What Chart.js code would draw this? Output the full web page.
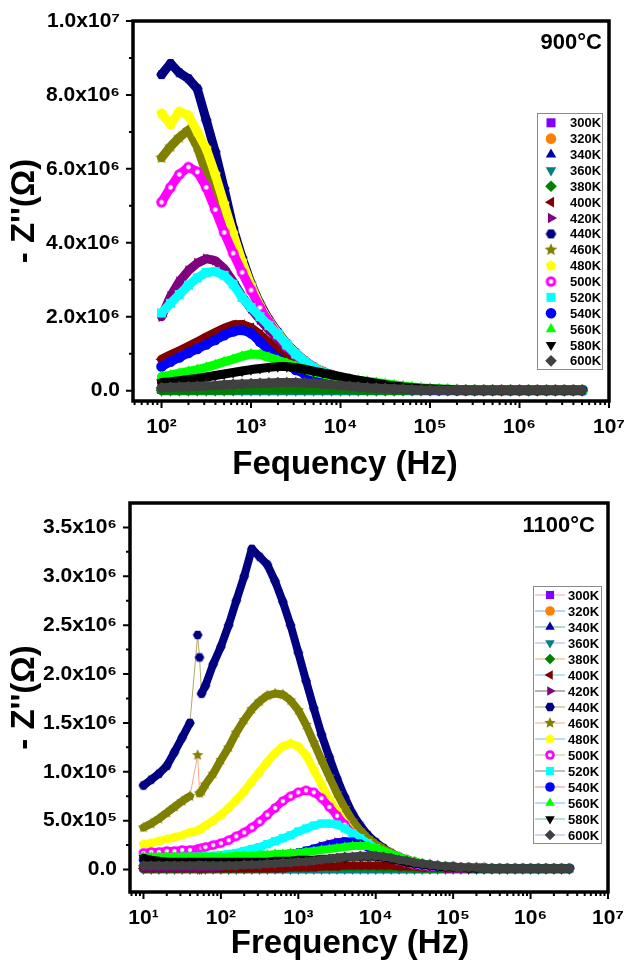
<!DOCTYPE html>
<html>
<head>
<meta charset="utf-8">
<script src="https://cdn.jsdelivr.net/npm/chart.js@4.4.0/dist/chart.umd.min.js"></script>
<style>
  html, body { margin: 0; padding: 0; background: #fff; }
  #wrap { position: relative; width: 624px; height: 966px; }
  canvas { position: absolute; left: 0; }
</style>
</head>
<body>
<div id="wrap">
  <canvas id="topChart" width="624" height="483" style="top:0"></canvas>
  <canvas id="botChart" width="624" height="483" style="top:483px"></canvas>
</div>
<script>
const FONT = '"Liberation Sans", Arial, Helvetica, sans-serif';

const temps = ['300K','320K','340K','360K','380K','400K','420K','440K','460K','480K','500K','520K','540K','560K','580K','600K'];
const markerColors = ['#8000ff','#ff8000','#0000a8','#008080','#008000','#800000','#800080','#000080','#808000','#ffff00','#ff00ff','#00ffff','#0000ff','#00ff00','#000000','#404040'];
const markerShapes = ['square','circle','up','down','diamond','left','right','hexagon','star','pentagon','sphere','square','circle','up','down','diamond'];
const lineColors = ['#f4a0a0','#80a8e0','#60b888','#c8a0e8','#e8b468','#68d0d8','#786060','#b0a868','#f4a888','#88aee8','#a8d878','#808080','#f08888','#88aee8','#70c098','#c8a0e8'];

// ---- 900 °C panel (values in MOhm) ----
const freqTop = [100,126,158,200,251,316,398,501,631,794,
  1000,1259,1585,1995,2512,3162,3981,5012,6310,7943,
  1e4,1.26e4,1.58e4,2e4,2.51e4,3.16e4,3.98e4,5.01e4,6.31e4,7.94e4,
  1e5,1.26e5,1.58e5,2e5,2.51e5,3.16e5,3.98e5,5.01e5,6.31e5,7.94e5,
  1e6,1.26e6,1.58e6,2e6,2.51e6,3.16e6,3.98e6,5.01e6];
const top300K = [0.03,0.02,0.02,0.02,0.02,0.02,0.02,0.02,0.02,0.02, 0.02,0.02,0.02,0.02,0.02,0.02,0.02,0.02,0.02,0.02, 0.01,0.01,0.01,0.01,0.01,0.01,0.01,0.01,0.01,0.01, 0.01,0.01,0.01,0.01,0.01,0.01,0.01,0.01,0.01,0.01, 0.01,0.01,0.01,0.01,0.01,0.01,0.01,0.01];
const top320K = [0.04,0.03,0.03,0.03,0.03,0.03,0.03,0.03,0.03,0.03, 0.03,0.03,0.03,0.03,0.03,0.03,0.03,0.02,0.02,0.02, 0.02,0.02,0.02,0.02,0.01,0.01,0.01,0.01,0.01,0.01, 0.01,0.01,0.01,0.01,0.01,0.01,0.01,0.01,0.01,0.01, 0.01,0.01,0.01,0.01,0.01,0.01,0.01,0.01];
const top340K = [0.03,0.02,0.02,0.02,0.02,0.02,0.02,0.02,0.02,0.02, 0.02,0.02,0.02,0.02,0.02,0.02,0.02,0.02,0.02,0.02, 0.02,0.01,0.01,0.01,0.01,0.01,0.01,0.01,0.01,0.01, 0.01,0.01,0.01,0.01,0.01,0.01,0.01,0.01,0.01,0.01, 0.01,0.01,0.01,0.01,0.01,0.01,0.01,0.01];
const top360K = [0,0,0,0,0,0,0,0,0,0, 0,0,0,0,0,0,0,0,0,0, 0,0,0,0,0,0,0,0,0,0, 0,0,0,0,0,0,0,0,0,0, 0,0,0,0,0,0,0,0];
const top380K = [0.01,0.01,0.01,0.01,0.01,0.02,0.02,0.02,0.02,0.03, 0.03,0.03,0.04,0.04,0.04,0.04,0.04,0.04,0.04,0.03, 0.03,0.03,0.02,0.02,0.02,0.01,0.01,0.01,0.01,0.01, 0.01,0.01,0.01,0.01,0.01,0.01,0.01,0.01,0.01,0.01, 0.01,0.01,0.01,0.01,0.01,0.01,0.01,0.01];
const top400K = [0.85,0.97,1.08,1.2,1.32,1.45,1.57,1.69,1.78,1.79, 1.7,1.52,1.3,1.08,0.88,0.71,0.57,0.46,0.38,0.32, 0.27,0.22,0.18,0.15,0.12,0.09,0.07,0.05,0.04,0.03, 0.02,0.02,0.02,0.01,0.01,0.01,0.01,0.01,0.01,0.01, 0.01,0.01,0.01,0.01,0.01,0.01,0.01,0.01];
const top420K = [2.0,2.55,2.95,3.25,3.45,3.57,3.52,3.3,2.95,2.55, 2.22,1.92,1.65,1.4,1.16,0.95,0.77,0.62,0.5,0.41, 0.34,0.28,0.22,0.18,0.14,0.11,0.08,0.06,0.05,0.04, 0.03,0.02,0.02,0.02,0.01,0.01,0.01,0.01,0.01,0.01, 0.01,0.01,0.01,0.01,0.01,0.01,0.01,0.01];
const top440K = [8.55,8.85,8.6,8.44,8.17,7.32,6.46,5.47,4.4,3.6, 2.9,2.35,1.92,1.58,1.27,1.02,0.81,0.64,0.52,0.43, 0.36,0.3,0.24,0.19,0.15,0.12,0.09,0.07,0.05,0.04, 0.03,0.03,0.02,0.02,0.01,0.01,0.01,0.01,0.01,0.01, 0.01,0.01,0.01,0.01,0.01,0.01,0.01,0.01];
const top460K = [6.3,6.6,6.85,7.05,6.6,5.9,5.3,4.65,4.0,3.35, 2.75,2.25,1.85,1.52,1.23,0.99,0.79,0.63,0.51,0.42, 0.35,0.29,0.23,0.18,0.14,0.11,0.09,0.07,0.05,0.04, 0.03,0.02,0.02,0.02,0.01,0.01,0.01,0.01,0.01,0.01, 0.01,0.01,0.01,0.01,0.01,0.01,0.01,0.01];
const top480K = [7.5,7.2,7.55,7.45,7.0,6.55,5.85,5.05,4.25,3.5, 2.85,2.3,1.88,1.55,1.25,1.0,0.8,0.63,0.51,0.42, 0.35,0.29,0.23,0.19,0.15,0.11,0.09,0.07,0.05,0.04, 0.03,0.02,0.02,0.02,0.01,0.01,0.01,0.01,0.01,0.01, 0.01,0.01,0.01,0.01,0.01,0.01,0.01,0.01];
const top500K = [5.1,5.5,5.85,6.05,5.92,5.5,4.9,4.28,3.72,3.2, 2.72,2.25,1.85,1.5,1.2,0.97,0.78,0.62,0.5,0.41, 0.34,0.28,0.23,0.18,0.14,0.11,0.09,0.07,0.05,0.04, 0.03,0.02,0.02,0.02,0.01,0.01,0.01,0.01,0.01,0.01, 0.01,0.01,0.01,0.01,0.01,0.01,0.01,0.01];
const top520K = [2.1,2.36,2.6,2.85,3.05,3.2,3.22,3.12,2.88,2.52, 2.25,2.0,1.76,1.52,1.24,0.99,0.79,0.62,0.5,0.41, 0.34,0.28,0.23,0.18,0.14,0.11,0.09,0.07,0.05,0.04, 0.03,0.02,0.02,0.02,0.01,0.01,0.01,0.01,0.01,0.01, 0.01,0.01,0.01,0.01,0.01,0.01,0.01,0.01];
const top540K = [0.65,0.78,0.9,1.02,1.13,1.25,1.37,1.5,1.6,1.64, 1.55,1.32,1.08,0.87,0.7,0.56,0.45,0.37,0.31,0.26, 0.22,0.18,0.15,0.12,0.1,0.08,0.06,0.05,0.04,0.03, 0.02,0.02,0.02,0.01,0.01,0.01,0.01,0.01,0.01,0.01, 0.01,0.01,0.01,0.01,0.01,0.01,0.01,0.01];
const top560K = [0.38,0.42,0.47,0.52,0.57,0.63,0.7,0.78,0.85,0.93, 0.99,0.98,0.9,0.82,0.74,0.66,0.58,0.5,0.45,0.4, 0.35,0.31,0.28,0.25,0.22,0.19,0.16,0.13,0.1,0.08, 0.06,0.05,0.04,0.03,0.02,0.02,0.02,0.01,0.01,0.01, 0.01,0.01,0.01,0.01,0.01,0.01,0.01,0.01];
const top580K = [0.22,0.24,0.27,0.3,0.33,0.37,0.41,0.45,0.49,0.53, 0.57,0.6,0.63,0.65,0.65,0.62,0.58,0.53,0.48,0.43, 0.38,0.33,0.28,0.24,0.2,0.16,0.13,0.1,0.08,0.06, 0.05,0.04,0.03,0.02,0.02,0.01,0.01,0.01,0.01,0.01, 0.01,0.01,0.01,0.01,0.01,0.01,0.01,0.01];
const top600K = [0.08,0.09,0.1,0.11,0.12,0.13,0.14,0.16,0.17,0.18, 0.19,0.2,0.21,0.22,0.22,0.22,0.21,0.2,0.18,0.16, 0.14,0.12,0.1,0.08,0.07,0.06,0.05,0.04,0.03,0.02, 0.02,0.01,0.01,0.01,0.01,0.01,0.01,0.01,0.01,0.01, 0.01,0.01,0.01,0.01,0.01,0.01,0.01,0.01];

// ---- 1100 °C panel (values in MOhm) ----
const freqBot = [10,12.6,15.8,20,25.1,31.6,39.8,50.1,53,56.2,63.1,79.4,
  100,126,158,200,251,316,398,501,631,794,
  1000,1259,1585,1995,2512,3162,3981,5012,6310,7943,
  1e4,1.26e4,1.58e4,2e4,2.51e4,3.16e4,3.98e4,5.01e4,6.31e4,7.94e4,
  1e5,1.26e5,1.58e5,2e5,2.51e5,3.16e5,3.98e5,5.01e5,6.31e5,7.94e5,
  1e6,1.26e6,1.58e6,2e6,2.51e6,3.16e6];
const bot300K = [0.02,0.02,0.02,0.02,0.02,0.02,0.02,0.02,0.02,0.02,0.02,0.02, 0.02,0.02,0.02,0.02,0.02,0.02,0.02,0.02,0.02,0.02, 0.02,0.02,0.02,0.02,0.02,0.02,0.02,0.02,0.02,0.02, 0.01,0.01,0.01,0.01,0.01,0.01,0.01,0.01,0.01,0.01, 0.01,0.01,0.01,0.01,0.01,0.01,0.01,0.01,0.01,0.01, 0.01,0.01,0.01,0.01,0.01,0.01];
const bot320K = [0.03,0.02,0.02,0.02,0.02,0.02,0.02,0.02,0.02,0.02,0.02,0.02, 0.02,0.02,0.02,0.02,0.02,0.02,0.02,0.02,0.02,0.02, 0.02,0.02,0.02,0.02,0.02,0.02,0.02,0.01,0.01,0.01, 0.01,0.01,0.01,0.01,0.01,0.01,0.01,0.01,0.01,0.01, 0.01,0.01,0.01,0.01,0.01,0.01,0.01,0.01,0.01,0.01, 0.01,0.01,0.01,0.01,0.01,0.01];
const bot340K = [0.02,0.02,0.02,0.02,0.02,0.02,0.02,0.02,0.02,0.02,0.02,0.02, 0.02,0.02,0.02,0.02,0.02,0.02,0.02,0.02,0.02,0.02, 0.02,0.02,0.02,0.02,0.02,0.02,0.02,0.02,0.02,0.02, 0.01,0.01,0.01,0.01,0.01,0.01,0.01,0.01,0.01,0.01, 0.01,0.01,0.01,0.01,0.01,0.01,0.01,0.01,0.01,0.01, 0.01,0.01,0.01,0.01,0.01,0.01];
const bot360K = [0,0,0,0,0,0,0,0,0,0,0,0, 0,0,0,0,0,0,0,0,0,0, 0,0,0,0,0,0,0,0,0,0, 0,0,0,0,0,0,0,0,0,0, 0,0,0,0,0,0,0,0,0,0, 0,0,0,0,0,0];
const bot380K = [0.01,0.01,0.01,0.01,0.01,0.01,0.01,0.01,0.01,0.01,0.01,0.01, 0.01,0.01,0.01,0.01,0.01,0.01,0.01,0.02,0.02,0.02, 0.02,0.02,0.03,0.03,0.03,0.03,0.03,0.03,0.03,0.03, 0.03,0.02,0.02,0.02,0.02,0.01,0.01,0.01,0.01,0.01, 0.01,0.01,0.01,0.01,0.01,0.01,0.01,0.01,0.01,0.01, 0.01,0.01,0.01,0.01,0.01,0.01];
const bot400K = [0.01,0.01,0.01,0.01,0.01,0.01,0.01,0.01,0.01,0.01,0.01,0.01, 0.01,0.01,0.01,0.01,0.01,0.01,0.01,0.01,0.01,0.02, 0.02,0.02,0.02,0.03,0.03,0.03,0.04,0.04,0.04,0.04, 0.04,0.04,0.04,0.03,0.03,0.03,0.02,0.02,0.02,0.01, 0.01,0.01,0.01,0.01,0.01,0.01,0.01,0.01,0.01,0.01, 0.01,0.01,0.01,0.01,0.01,0.01];
const bot420K = [0.02,0.02,0.02,0.02,0.02,0.02,0.02,0.02,0.02,0.02,0.02,0.02, 0.03,0.04,0.04,0.05,0.06,0.07,0.08,0.1,0.12,0.14, 0.16,0.19,0.21,0.24,0.26,0.28,0.29,0.29,0.27,0.24, 0.2,0.16,0.12,0.09,0.07,0.05,0.04,0.03,0.02,0.02, 0.01,0.01,0.01,0.01,0.01,0.01,0.01,0.01,0.01,0.01, 0.01,0.01,0.01,0.01,0.01,0.01];
const bot440K = [0.86,0.92,0.98,1.06,1.2,1.35,1.5,2.4,2.17,1.8,1.88,2.1, 2.28,2.5,2.75,3.0,3.28,3.2,3.12,2.95,2.74,2.5, 2.22,1.93,1.65,1.38,1.15,0.93,0.74,0.57,0.45,0.35, 0.28,0.22,0.17,0.13,0.1,0.08,0.06,0.05,0.04,0.03, 0.03,0.02,0.02,0.02,0.02,0.01,0.01,0.01,0.01,0.01, 0.01,0.01,0.01,0.01,0.01,0.01];
const bot460K = [0.43,0.47,0.52,0.58,0.64,0.7,0.75,1.17,0.78,0.8,0.87,0.98, 1.12,1.25,1.4,1.53,1.64,1.72,1.78,1.8,1.79,1.73, 1.63,1.48,1.3,1.12,0.95,0.78,0.63,0.5,0.4,0.32, 0.26,0.21,0.17,0.13,0.1,0.08,0.06,0.05,0.04,0.03, 0.03,0.02,0.02,0.02,0.02,0.01,0.01,0.01,0.01,0.01, 0.01,0.01,0.01,0.01,0.01,0.01];
const bot480K = [0.26,0.27,0.29,0.31,0.33,0.35,0.38,0.4,0.41,0.42,0.45,0.5, 0.56,0.63,0.71,0.8,0.9,1.0,1.1,1.19,1.26,1.29, 1.26,1.17,1.02,0.87,0.72,0.6,0.48,0.38,0.31,0.25, 0.2,0.16,0.13,0.1,0.08,0.06,0.05,0.04,0.03,0.03, 0.02,0.02,0.02,0.02,0.01,0.01,0.01,0.01,0.01,0.01, 0.01,0.01,0.01,0.01,0.01,0.01];
const bot500K = [0.17,0.18,0.18,0.19,0.19,0.2,0.2,0.21,0.21,0.22,0.23,0.25, 0.27,0.3,0.34,0.38,0.43,0.49,0.56,0.63,0.7,0.75, 0.79,0.81,0.79,0.73,0.64,0.55,0.46,0.37,0.3,0.24, 0.19,0.15,0.12,0.09,0.07,0.05,0.04,0.03,0.03,0.02, 0.02,0.02,0.02,0.01,0.01,0.01,0.01,0.01,0.01,0.01, 0.01,0.01,0.01,0.01,0.01,0.01];
const bot520K = [0.12,0.12,0.12,0.12,0.12,0.13,0.13,0.13,0.13,0.13,0.14,0.14, 0.15,0.16,0.17,0.19,0.21,0.23,0.26,0.29,0.32,0.35, 0.39,0.42,0.45,0.47,0.47,0.46,0.42,0.37,0.32,0.27, 0.22,0.18,0.14,0.11,0.08,0.06,0.05,0.04,0.03,0.03, 0.02,0.02,0.02,0.01,0.01,0.01,0.01,0.01,0.01,0.01, 0.01,0.01,0.01,0.01,0.01,0.01];
const bot540K = [0.1,0.1,0.1,0.1,0.1,0.1,0.1,0.1,0.1,0.1,0.1,0.1, 0.1,0.1,0.11,0.11,0.12,0.12,0.13,0.14,0.15,0.16, 0.17,0.19,0.21,0.23,0.25,0.27,0.28,0.28,0.26,0.23, 0.2,0.16,0.13,0.1,0.08,0.06,0.05,0.04,0.03,0.03, 0.02,0.02,0.02,0.01,0.01,0.01,0.01,0.01,0.01,0.01, 0.01,0.01,0.01,0.01,0.01,0.01];
const bot560K = [0.13,0.13,0.13,0.13,0.13,0.13,0.13,0.13,0.13,0.13,0.13,0.13, 0.13,0.13,0.14,0.14,0.14,0.15,0.15,0.16,0.16,0.17, 0.17,0.18,0.19,0.2,0.21,0.22,0.23,0.24,0.24,0.24, 0.22,0.19,0.16,0.13,0.1,0.08,0.06,0.05,0.04,0.03, 0.02,0.02,0.02,0.01,0.01,0.01,0.01,0.01,0.01,0.01, 0.01,0.01,0.01,0.01,0.01,0.01];
const bot580K = [0.12,0.1,0.09,0.08,0.08,0.08,0.08,0.08,0.08,0.08,0.08,0.08, 0.08,0.08,0.08,0.08,0.08,0.08,0.08,0.09,0.09,0.09, 0.1,0.1,0.1,0.11,0.11,0.12,0.12,0.13,0.13,0.13, 0.13,0.12,0.11,0.09,0.07,0.06,0.05,0.04,0.03,0.02, 0.02,0.02,0.01,0.01,0.01,0.01,0.01,0.01,0.01,0.01, 0.01,0.01,0.01,0.01,0.01,0.01];
const bot600K = [0.04,0.04,0.04,0.04,0.04,0.04,0.04,0.04,0.04,0.04,0.04,0.04, 0.04,0.04,0.04,0.05,0.05,0.05,0.06,0.06,0.07,0.07, 0.08,0.08,0.09,0.1,0.11,0.12,0.13,0.13,0.14,0.14, 0.14,0.13,0.12,0.1,0.09,0.07,0.06,0.05,0.04,0.03, 0.03,0.02,0.02,0.02,0.01,0.01,0.01,0.01,0.01,0.01, 0.01,0.01,0.01,0.01,0.01,0.01];

// axis ticks and labels
const xTicksTop = [1e2,1e3,1e4,1e5,1e6,1e7];
const xLabelsTop = ['10²','10³','10⁴','10⁵','10⁶','10⁷'];
const yTicksTop = [0,2e6,4e6,6e6,8e6,1e7];
const yLabelsTop = ['0.0','2.0x10⁶','4.0x10⁶','6.0x10⁶','8.0x10⁶','1.0x10⁷'];
const xTicksBot = [1e1,1e2,1e3,1e4,1e5,1e6,1e7];
const xLabelsBot = ['10¹','10²','10³','10⁴','10⁵','10⁶','10⁷'];
const yTicksBot = [0,5e5,1e6,1.5e6,2e6,2.5e6,3e6,3.5e6];
const yLabelsBot = ['0.0','5.0x10⁵','1.0x10⁶','1.5x10⁶','2.0x10⁶','2.5x10⁶','3.0x10⁶','3.5x10⁶'];

const topSeries = [top300K,top320K,top340K,top360K,top380K,top400K,top420K,top440K,top460K,top480K,top500K,top520K,top540K,top560K,top580K,top600K];
const botSeries = [bot300K,bot320K,bot340K,bot360K,bot380K,bot400K,bot420K,bot440K,bot460K,bot480K,bot500K,bot520K,bot540K,bot560K,bot580K,bot600K];

// ---- marker pictures for shapes Chart.js does not have ----
function polyCanvas(n, r, color, rot, inner) {
  const s = Math.ceil(2 * r + 2);
  const c = document.createElement('canvas');
  c.width = c.height = s;
  const g = c.getContext('2d');
  const pts = inner ? n * 2 : n;
  g.fillStyle = color;
  g.beginPath();
  for (let i = 0; i < pts; i++) {
    const a = rot + i * 2 * Math.PI / pts;
    const rr = inner && i % 2 ? r * inner : r;
    g.lineTo(s / 2 + rr * Math.sin(a), s / 2 - rr * Math.cos(a));
  }
  g.closePath();
  g.fill();
  return c;
}
function sphereCanvas(r, color) {
  const s = Math.ceil(2 * r + 2);
  const c = document.createElement('canvas');
  c.width = c.height = s;
  const g = c.getContext('2d');
  const grad = g.createRadialGradient(s / 2, s / 2, 0, s / 2, s / 2, r);
  grad.addColorStop(0, '#ffffff');
  grad.addColorStop(0.3, '#ffffff');
  grad.addColorStop(0.55, color);
  grad.addColorStop(1, color);
  g.fillStyle = grad;
  g.beginPath();
  g.arc(s / 2, s / 2, r, 0, Math.PI * 2);
  g.fill();
  return c;
}
function markerStyle(shape, color, r) {
  switch (shape) {
    case 'square': return { pointStyle: 'rect', rotation: 0, radius: r * 1.2 };
    case 'circle': return { pointStyle: 'circle', rotation: 0, radius: r };
    case 'up': return { pointStyle: 'triangle', rotation: 0, radius: r * 1.15 };
    case 'down': return { pointStyle: 'triangle', rotation: 180, radius: r * 1.15 };
    case 'left': return { pointStyle: 'triangle', rotation: 270, radius: r * 1.15 };
    case 'right': return { pointStyle: 'triangle', rotation: 90, radius: r * 1.15 };
    case 'diamond': return { pointStyle: 'rectRot', rotation: 0, radius: r * 1.1 };
    case 'hexagon': return { pointStyle: polyCanvas(6, r, color, Math.PI / 6), rotation: 0, radius: r };
    case 'pentagon': return { pointStyle: polyCanvas(5, r * 1.05, color, 0), rotation: 0, radius: r };
    case 'star': return { pointStyle: polyCanvas(5, r * 1.25, color, 0, 0.45), rotation: 0, radius: r };
    case 'sphere': return { pointStyle: sphereCanvas(r, color), rotation: 0, radius: r };
  }
}

// dense marker runs look like a band; isolated jumps only keep the thin connecting line
function buildSets(freqs, series, r, band, jump) {
  const steep = c => Math.abs(c.p1.y - c.p0.y) > jump * Math.abs(c.p1.x - c.p0.x);
  return series.map((vals, i) => {
    const m = markerStyle(markerShapes[i], markerColors[i], r);
    return {
      label: temps[i],
      data: freqs.map((f, k) => ({ x: f, y: vals[k] * 1e6 })),
      showLine: true,
      borderColor: markerColors[i],
      borderWidth: band,
      borderCapStyle: 'round',
      borderJoinStyle: 'round',
      segment: {
        borderColor: c => steep(c) ? lineColors[i] : markerColors[i],
        borderWidth: c => steep(c) ? 1 : band
      },
      pointStyle: m.pointStyle,
      pointRotation: m.rotation,
      pointRadius: m.radius,
      pointBackgroundColor: markerColors[i],
      pointBorderWidth: 0,
      order: series.length - i
    };
  });
}

// frame, outward ticks, legend box and the free texts
const deco = {
  id: 'deco',
  afterDraw(chart, args, o) {
    const { ctx, chartArea: a, scales: { x, y } } = chart;
    ctx.save();
    ctx.strokeStyle = '#000';
    ctx.lineWidth = 2;
    ctx.beginPath();
    o.xMajor.forEach(v => { const p = x.getPixelForValue(v); ctx.moveTo(p, a.bottom); ctx.lineTo(p, a.bottom + 7); });
    for (let d = -1; d < 8; d++) {
      for (let m = 2; m < 10; m++) {
        const v = m * Math.pow(10, d);
        if (v <= x.min || v >= x.max) continue;
        const p = x.getPixelForValue(v);
        ctx.moveTo(p, a.bottom); ctx.lineTo(p, a.bottom + 4);
      }
    }
    o.yMajor.forEach(v => { const p = y.getPixelForValue(v); ctx.moveTo(a.left, p); ctx.lineTo(a.left - 7, p); });
    o.yMinor.forEach(v => { const p = y.getPixelForValue(v); ctx.moveTo(a.left, p); ctx.lineTo(a.left - 4, p); });
    ctx.stroke();
    ctx.lineWidth = 3.5;
    ctx.strokeRect(a.left, a.top, a.right - a.left, a.bottom - a.top);

    // legend
    const L = o.legend;
    ctx.fillStyle = '#fff';
    ctx.fillRect(L.x, L.y, L.w, L.h);
    ctx.lineWidth = 1;
    ctx.strokeStyle = '#8a8a8a';
    ctx.strokeRect(L.x + 0.5, L.y + 0.5, L.w, L.h);
    ctx.font = 'bold 13px ' + FONT;
    ctx.textBaseline = 'middle';
    ctx.textAlign = 'left';
    chart.data.datasets.forEach((ds, i) => {
      const ry = L.row0 + i * L.rowH;
      if (L.lines) {
        ctx.strokeStyle = lineColors[i];
        ctx.lineWidth = 1;
        ctx.beginPath();
        ctx.moveTo(L.lineX0, ry); ctx.lineTo(L.lineX1, ry);
        ctx.stroke();
      }
      ctx.fillStyle = markerColors[i];
      Chart.helpers.drawPoint(ctx, { pointStyle: ds.pointStyle, rotation: ds.pointRotation, radius: ds.pointRadius, borderWidth: 0 }, L.mx, ry);
      ctx.fillStyle = '#000';
      ctx.fillText(ds.label, L.tx, ry + 1);
    });

    // panel label
    ctx.fillStyle = '#000';
    ctx.font = 'bold 22px ' + FONT;
    ctx.textAlign = 'right';
    ctx.textBaseline = 'alphabetic';
    ctx.fillText(o.tag, o.tagX, o.tagY);

    // axis titles
    ctx.font = 'bold 33px ' + FONT;
    ctx.textAlign = 'center';
    ctx.fillText(o.xTitle, o.xTitleX, o.xTitleY);
    ctx.translate(o.yTitleX, (a.top + a.bottom) / 2);
    ctx.rotate(-Math.PI / 2);
    ctx.textBaseline = 'middle';
    ctx.fillText('- Z\'\'(Ω)', 0, 0);
    ctx.restore();
  }
};

function makeChart(id, cfg) {
  const tickFont = { family: FONT, size: 21, weight: 'bold' };
  return new Chart(document.getElementById(id), {
    type: 'scatter',
    data: { datasets: buildSets(cfg.freqs, cfg.series, cfg.r, cfg.band, cfg.jump) },
    plugins: [deco],
    options: {
      responsive: false,
      animation: false,
      events: [],
      layout: { padding: cfg.pad },
      scales: {
        x: {
          type: 'logarithmic',
          min: cfg.xMin, max: cfg.xMax,
          grid: { display: false, drawTicks: false },
          border: { display: false },
          afterBuildTicks(s) { s.ticks = cfg.xTicks.map(v => ({ value: v, major: true })); },
          afterFit(s) { s.height = cfg.xH; s.paddingLeft = 0; s.paddingRight = 0; },
          ticks: {
            autoSkip: false, maxRotation: 0, padding: 14, color: '#000', font: tickFont,
            callback: v => cfg.xLabels[cfg.xTicks.indexOf(v)]
          }
        },
        y: {
          min: cfg.yMin, max: cfg.yMax,
          grid: { display: false, drawTicks: false },
          border: { display: false },
          afterBuildTicks(s) { s.ticks = cfg.yTicks.map(v => ({ value: v })); },
          afterFit(s) { s.width = cfg.yW; s.paddingTop = 0; s.paddingBottom = 0; },
          ticks: {
            autoSkip: false, padding: 13, color: '#000', font: tickFont,
            callback: v => cfg.yLabels[cfg.yTicks.indexOf(v)]
          }
        }
      },
      plugins: {
        legend: { display: false },
        tooltip: { enabled: false },
        deco: cfg.deco
      }
    }
  });
}

makeChart('topChart', {
  freqs: freqTop, series: topSeries, r: 5.3, band: 9, jump: 1e9,
  xMin: 48, xMax: 1e7, yMin: -0.28e6, yMax: 1.0e7,
  xTicks: xTicksTop, xLabels: xLabelsTop, yTicks: yTicksTop, yLabels: yLabelsTop,
  xH: 82, yW: 133, pad: { left: 0, top: 21, right: 15, bottom: 0 },
  deco: {
    xMajor: xTicksTop, yMajor: yTicksTop, yMinor: [1e6,3e6,5e6,7e6,9e6],
    legend: { x: 537, y: 113, w: 65, h: 256, row0: 122.8, rowH: 15.87, mx: 551, tx: 570, lines: false },
    tag: '900°C', tagX: 602, tagY: 49,
    xTitle: 'Fequency (Hz)', xTitleX: 345, xTitleY: 474, yTitleX: 25
  }
});

makeChart('botChart', {
  freqs: freqBot, series: botSeries, r: 4.8, band: 8, jump: 4.5,
  xMin: 6.7, xMax: 1e7, yMin: -0.23e6, yMax: 3.75e6,
  xTicks: xTicksBot, xLabels: xLabelsBot, yTicks: yTicksBot, yLabels: yLabelsBot,
  xH: 74, yW: 130, pad: { left: 0, top: 20, right: 16, bottom: 0 },
  deco: {
    xMajor: xTicksBot, yMajor: yTicksBot, yMinor: [2.5e5,7.5e5,1.25e6,1.75e6,2.25e6,2.75e6,3.25e6],
    legend: { x: 533, y: 103, w: 68, h: 257, row0: 112, rowH: 16, mx: 550, tx: 568, lines: true, lineX0: 535, lineX1: 565 },
    tag: '1100°C', tagX: 595, tagY: 49,
    xTitle: 'Frequency (Hz)', xTitleX: 350, xTitleY: 470, yTitleX: 25
  }
});
</script>
</body>
</html>
